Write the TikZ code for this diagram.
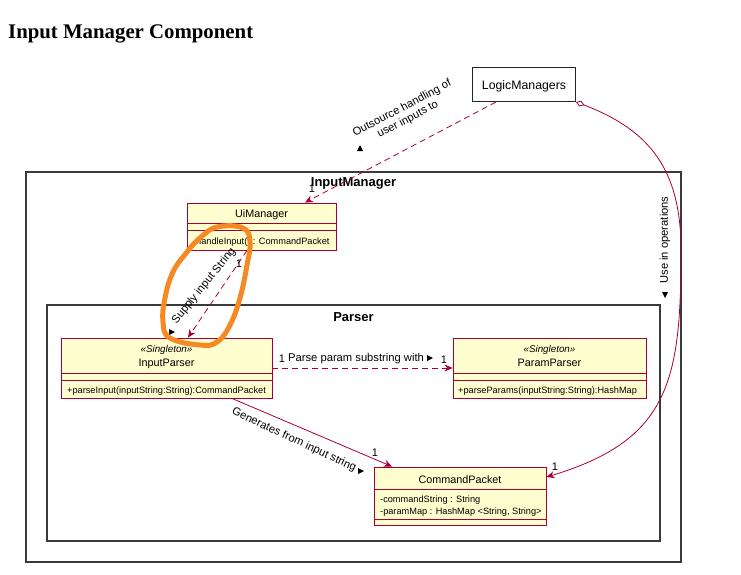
\documentclass[tikz,border=0pt]{standalone}
\usepackage{fontspec}
\setmainfont{Liberation Sans}
\newfontfamily\titlefont{Liberation Serif}
\usetikzlibrary{arrows.meta}
\definecolor{umlred}{HTML}{A80036}
\definecolor{umlfill}{HTML}{FEFECE}
\definecolor{pkgline}{HTML}{3A3A3A}
\definecolor{hilite}{HTML}{F58A25}
\begin{document}
\begin{tikzpicture}[x=1pt,y=-1pt,
  classbox/.style={draw=umlred, fill=umlfill, line width=0.9pt, inner sep=0pt, rectangle},
  pkgbox/.style={draw=pkgline, line width=1.3pt, inner sep=0pt, rectangle},
  plainbox/.style={draw=black!85, fill=white, line width=1pt, inner sep=0pt, rectangle},
  nametext/.style={font=\fontsize{10.8}{12}\selectfont, inner sep=0pt, anchor=base},
  stereo/.style={font=\fontsize{9.8}{11}\selectfont\itshape, inner sep=0pt, anchor=base},
  membertext/.style={font=\fontsize{9.2}{10}\selectfont, inner sep=0pt, anchor=base west},
  pkgtitle/.style={font=\fontsize{13}{15}\selectfont\bfseries, inner sep=0pt, anchor=base},
  lbl/.style={font=\fontsize{11.2}{12.5}\selectfont, inner sep=0pt},
  mult/.style={font=\fontsize{11}{12}\selectfont, inner sep=0pt},
  sep/.style={draw=umlred, line width=0.9pt},
  dep/.style={draw=umlred, line width=0.8pt, dash pattern=on 6pt off 4pt,
    -{Stealth[length=8pt,width=7pt,inset=2.5pt]}},
  assoc/.style={draw=umlred, line width=0.8pt,
    -{Stealth[length=8pt,width=7pt,inset=2.5pt]}},
  aggr/.style={draw=umlred, line width=0.8pt,
    {Diamond[open,length=9pt,width=6pt]}-{Stealth[length=8pt,width=7pt,inset=2.5pt]}},
  dirmark/.style={fill=black},
  highlight/.style={draw=hilite, line width=5pt, line cap=round, line join=round},
]
\useasboundingbox[fill=white] (0,0) rectangle (741,574);

% title
\node[font=\titlefont\fontsize{20.8}{24}\selectfont\bfseries, anchor=base west, inner sep=0pt] (title) at (8,38) {Input Manager Component};

% packages
\node[pkgbox, minimum width=655pt, minimum height=390pt] (im) at (353.5,367) {};
\node[pkgtitle] (imtitle) at (353.5,186.5) {InputManager};
\node[pkgbox, minimum width=613pt, minimum height=236pt] (parser) at (353.5,423) {};
\node[pkgtitle] (parsertitle) at (353.5,321.5) {Parser};

% LogicManagers
\node[plainbox, minimum width=103pt, minimum height=34pt] (lm) at (524,84.5) {};
\node[font=\fontsize{12.3}{14}\selectfont, inner sep=0pt, anchor=base] (lmtext) at (524,89.5) {LogicManagers};

% UiManager
\node[classbox, minimum width=149pt, minimum height=47pt] (ui) at (261.5,226.5) {};
\draw[sep] (187,223) -- (336,223);
\draw[sep] (187,230) -- (336,230);
\node[nametext] (uiname) at (261.5,217.5) {UiManager};
\node[membertext] (uim) at (196,244.5) {handleInput() : CommandPacket};

% InputParser
\node[classbox, minimum width=211pt, minimum height=60pt] (ip) at (166.5,368) {};
\draw[sep] (61,373) -- (272,373);
\draw[sep] (61,380) -- (272,380);
\node[stereo] (ipst) at (166.5,352.5) {«Singleton»};
\node[nametext] (ipname) at (166.5,366.5) {InputParser};
\node[membertext] (ipm) at (67,393.5) {+parseInput(inputString:String):CommandPacket};

% ParamParser
\node[classbox, minimum width=193pt, minimum height=60pt] (pp) at (549.5,368) {};
\draw[sep] (453,373) -- (646,373);
\draw[sep] (453,380) -- (646,380);
\node[stereo] (ppst) at (549.5,352.5) {«Singleton»};
\node[nametext] (ppname) at (549.5,366.5) {ParamParser};
\node[membertext] (ppm) at (458,393.5) {+parseParams(inputString:String):HashMap};

% CommandPacket
\node[classbox, minimum width=172pt, minimum height=58pt] (cp) at (460,496) {};
\draw[sep] (374,489) -- (546,489);
\draw[sep] (374,519) -- (546,519);
\node[nametext] (cpname) at (460,483.5) {CommandPacket};
\node[membertext] (cpa1) at (380,502.5) {-commandString : String};
\node[membertext] (cpa2) at (380,514.5) {-paramMap : HashMap <String, String>};

% LogicManagers -> UiManager
\draw[dep] ([xshift=-28pt]lm.south) -- ([xshift=43.5pt]ui.north);
\node[lbl, align=center, rotate=28] (outsrc) at (405,114) {Outsource handling of\\user inputs to};
\fill[dirmark] (357,151) -- (363,151) -- (360,145) -- cycle;
\node[mult] (m1) at (312,189) {1};

% UiManager -> InputParser
\draw[dep] ([xshift=-14.5pt]ui.south) -- ([xshift=21.5pt]ip.north);
\node[lbl, rotate=51] (supply) at (204,286) {Supply input String};
\fill[dirmark] (169,329) -- (169,335) -- (175,332) -- cycle;
\node[mult] (m2) at (239,264) {1};

% InputParser -> ParamParser
\draw[dep] (ip.east) -- (pp.west);
\node[mult] (m3) at (282,359) {1};
\node[lbl, anchor=base west] (parse) at (288,361.5) {Parse param substring with};
\fill[dirmark] (427,355) -- (427,361) -- (433,358) -- cycle;
\node[mult] (m4) at (444,360) {1};

% InputParser -> CommandPacket
\draw[assoc] ([xshift=65.5pt]ip.south) -- ([xshift=-68pt]cp.north);
\node[lbl, rotate=-25] (gen) at (294,440) {Generates from input string};
\fill[dirmark] (358,468) -- (358,474) -- (364,471) -- cycle;
\node[mult] (m5) at (375,453) {1};

% LogicManagers -> CommandPacket (aggregation)
\draw[aggr] (lm.south east) .. controls (650,130) and (681,170) .. (681,250)
  .. controls (681,380) and (670,440) .. ([yshift=19pt]cp.east);
\node[lbl, rotate=90] (use) at (665,240) {Use in operations};
\fill[dirmark] (662,292) -- (668,292) -- (665,298) -- cycle;
\node[mult] (m6) at (555,467) {1};

% orange hand-drawn highlight
\draw[highlight] plot[smooth cycle, tension=0.7] coordinates {
  (217,227) (243,228) (250,242) (247,265) (240,298) (230,325) (217,342)
  (200,345) (170,338) (163,322) (165,298) (173,272) (187,252) (200,238)};
\end{tikzpicture}
\end{document}
